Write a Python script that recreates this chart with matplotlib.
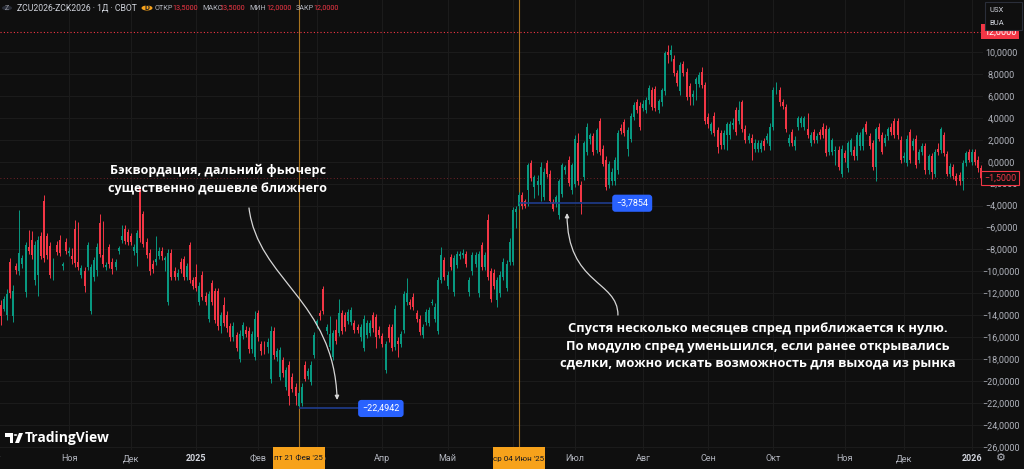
import numpy as np
import pandas as pd
import matplotlib
matplotlib.use("Agg")
import matplotlib.pyplot as plt
from matplotlib.patches import FancyArrowPatch, Circle, Rectangle, Polygon
from matplotlib.path import Path
import matplotlib.transforms as mtransforms

plt.rcParams['font.family'] = ['Roboto', 'DejaVu Sans']

BG = '#0f0f0f'
GRID = '#1b1b1b'
UP = '#089981'
DOWN = '#f23645'
AXTXT = '#b2b5be'

# daily candles ZCU2026-ZCK2026, 2 Oct 2024 .. 7 Jan 2026
opens = [
    -13.1, -13.4, -14.0, -9.1, -14.1, -9.5, -10.0, -9.3, -11.9, -7.8, -7.1, -10.8, -10.3, -6.8, -3.6, -6.8, -7.7, -10.5, -7.6, -7.1,
    -9.5, -7.3, -8.3, -8.6, -6.1, -9.1, -10.3, -10.0, -9.6, -13.6, -10.5, -9.9, -5.6, -8.5, -9.6, -7.8, -9.1, -9.6, -8.1, -7.1,
    -6.1, -6.4, -6.8, -8.1, -8.3, -2.5, -4.8, -7.3, -8.3, -9.3, -9.1, -8.6, -8.1, -9.0, -12.8, -8.3, -10.0, -10.5, -9.1, -8.9,
    -10.5, -7.6, -10.8, -10.5, -12.8, -10.3, -12.2, -14.3, -11.1, -11.8, -11.8, -15.0, -13.1, -14.0, -15.0, -16.0, -15.8, -18.0, -15.9, -15.3,
    -15.4, -17.1, -17.8, -13.8, -16.6, -16.6, -16.9, -19.8, -15.4, -17.8, -19.6, -18.1, -20.5, -18.5, -19.6, -20.5, -22.3, -22.0, -18.5, -19.5,
    -20.1, -17.6, -14.9, -13.8, -11.6, -15.4, -16.9, -17.8, -15.3, -15.6, -13.8, -14.0, -14.5, -14.6, -14.7, -15.1, -16.0, -17.0, -15.8, -15.6,
    -14.0, -14.2, -15.3, -15.9, -19.0, -15.1, -15.1, -16.9, -16.3, -16.6, -15.3, -12.8, -12.8, -12.3, -13.8, -14.3, -15.8, -14.6, -14.7, -12.9,
    -14.3, -15.4, -10.8, -9.0, -11.3, -8.7, -11.9, -9.4, -8.6, -8.5, -8.4, -11.9, -10.0, -9.3, -12.0, -7.6, -9.6, -5.3, -10.0, -10.1,
    -12.6, -12.0, -10.5, -11.5, -9.1, -9.1, -4.6, -4.0, -3.0, -3.6, -2.6, -0.1, -2.3, -2.1, -2.1, -3.2, -0.1, -1.1, -3.7, -3.8,
    -4.9, -2.9, -0.8, 0.2, -2.6, -2.0, 1.7, -2.1, -1.4, 0.9, 2.1, 2.3, 1.1, 3.7, 1.2, 0.2, -2.1, -1.8, -1.8, -0.8,
    3.1, 3.6, 1.2, 2.1, 4.1, 5.4, 5.1, 4.9, 4.7, 5.6, 6.5, 6.6, 4.7, 5.4, 6.4, 10.0, 9.7, 9.4, 8.1, 6.4,
    8.9, 8.2, 6.9, 5.9, 7.1, 7.1, 8.2, 7.0, 4.1, 2.8, 4.2, 2.9, 2.6, 1.5, 2.4, 2.4, 3.3, 4.7, 3.7, 5.4,
    3.0, 2.0, 2.2, 1.2, 1.2, 1.2, 1.9, 2.0, 1.4, 3.2, 6.5, 6.5, 5.4, 5.0, 1.7, 2.7, 1.4, 3.2, 3.5, 3.2,
    3.0, 1.7, 2.7, 2.0, 2.7, 3.2, 3.0, 0.9, 0.9, 1.0, 1.1, -1.1, 0.8, -0.6, 0.9, 1.1, 0.5, 1.4, 1.4, 3.4,
    2.3, 1.7, -0.5, 3.2, 2.4, 1.7, 2.3, 3.2, 3.7, 3.7, 2.0, 0.3, -0.1, 2.7, 1.4, 2.1, 0.2, 0.9, 1.4, -0.8,
    0.5, -1.1, 1.2, 1.1, 2.4, 0.7, -1.1, -0.5, -1.3, -1.2, -1.8, -0.1, 0.9, 0.0, 0.9, 0.2, -0.6,
]
highs = [
    -12.6, -12.2, -11.6, -8.8, -11.2, -9.2, -4.4, -8.5, -7.3, -6.2, -6.3, -7.2, -6.8, -6.4, -3.0, -6.5, -7.3, -8.8, -7.2, -6.7,
    -9.1, -7.0, -7.8, -7.9, -5.3, -5.5, -9.4, -9.6, -7.3, -9.3, -8.7, -7.4, -4.8, -5.4, -9.1, -7.5, -8.8, -8.9, -7.7, -5.8,
    -5.8, -6.1, -6.5, -7.5, -6.2, -2.3, -4.5, -7.0, -8.0, -9.0, -6.8, -7.8, -7.8, -8.6, -8.0, -8.0, -9.6, -9.8, -8.8, -8.6,
    -9.2, -7.3, -10.5, -9.3, -11.0, -10.0, -11.9, -11.8, -10.8, -11.5, -11.5, -13.7, -12.3, -13.6, -14.7, -14.6, -15.5, -15.3, -14.6, -15.0,
    -15.1, -15.4, -13.6, -13.5, -16.3, -16.3, -16.1, -15.0, -15.1, -17.0, -16.9, -17.8, -18.7, -18.2, -19.3, -20.2, -20.9, -20.2, -18.2, -18.8,
    -18.2, -15.5, -14.3, -13.5, -11.3, -14.8, -14.1, -15.3, -14.3, -12.5, -13.5, -13.7, -13.4, -13.2, -14.4, -14.8, -14.8, -14.0, -14.4, -14.4,
    -13.7, -13.9, -15.0, -15.6, -16.3, -14.8, -14.8, -13.1, -16.0, -15.4, -11.8, -10.6, -12.5, -12.0, -13.5, -14.0, -14.8, -13.4, -13.2, -12.5,
    -12.9, -10.5, -7.8, -8.7, -10.0, -8.4, -8.5, -8.1, -8.1, -8.0, -8.1, -10.5, -8.2, -8.2, -8.1, -7.3, -8.2, -4.8, -9.7, -9.8,
    -10.5, -10.0, -8.8, -9.0, -7.0, -4.1, -4.0, -2.8, -2.8, -3.4, -0.1, 0.2, -1.2, -1.2, 0.0, -0.6, 0.2, -0.8, -3.4, -3.0,
    -1.6, -0.1, -0.3, 0.5, -0.1, 2.4, 2.6, -1.8, 1.9, 3.5, 2.6, 2.6, 3.1, 4.0, 1.5, 0.5, 0.1, -0.6, 0.4, 2.9,
    3.4, 3.9, 3.2, 4.4, 5.4, 5.7, 5.4, 5.6, 5.9, 7.0, 6.8, 6.9, 5.7, 6.7, 10.1, 10.6, 10.6, 9.7, 8.4, 9.1,
    9.2, 8.5, 7.2, 6.5, 7.7, 8.2, 8.6, 7.3, 4.4, 3.6, 4.5, 3.2, 2.9, 2.9, 3.6, 3.7, 4.0, 5.0, 5.5, 5.6,
    3.3, 2.6, 2.5, 2.1, 2.0, 2.0, 2.2, 2.6, 3.5, 6.8, 7.3, 6.8, 5.7, 5.3, 2.5, 3.0, 2.3, 4.2, 4.2, 4.2,
    4.4, 2.7, 3.0, 2.6, 3.0, 3.5, 3.3, 3.2, 2.2, 1.4, 1.4, 1.5, 1.1, 1.9, 2.2, 1.4, 2.7, 2.7, 3.2, 3.7,
    2.6, 2.0, 3.2, 3.5, 2.7, 2.5, 3.2, 3.5, 4.0, 4.0, 2.3, 0.9, 2.4, 3.0, 2.2, 2.4, 1.2, 1.7, 1.7, 0.7,
    0.8, 1.2, 1.7, 3.2, 2.7, 1.0, -0.1, -0.2, -1.0, -0.9, 0.2, 1.0, 1.2, 1.2, 1.2, 0.5, -0.3,
]
lows = [
    -14.9, -13.6, -14.4, -12.4, -14.6, -10.2, -10.3, -9.7, -12.3, -8.4, -8.9, -11.2, -12.2, -8.9, -9.1, -8.9, -10.6, -10.8, -8.5, -8.6,
    -9.9, -8.4, -8.6, -9.3, -9.6, -9.9, -10.6, -11.9, -9.9, -13.9, -10.9, -10.4, -8.7, -9.6, -9.9, -9.7, -10.2, -9.9, -8.4, -7.4,
    -7.5, -7.6, -7.6, -8.5, -9.5, -7.3, -7.8, -8.8, -10.3, -10.1, -9.4, -8.9, -9.0, -10.0, -13.1, -10.8, -10.8, -10.8, -10.1, -10.8,
    -10.8, -11.1, -11.6, -11.8, -13.1, -12.6, -13.1, -14.6, -13.1, -14.7, -15.3, -15.6, -15.0, -15.5, -16.3, -16.3, -17.3, -18.3, -16.2, -16.0,
    -17.4, -17.4, -18.1, -16.3, -17.6, -17.5, -17.4, -20.2, -18.0, -18.2, -19.9, -19.6, -20.8, -22.2, -21.0, -22.2, -22.4942, -22.3, -20.0, -19.8,
    -20.4, -17.9, -15.2, -14.4, -13.9, -15.7, -17.2, -18.1, -16.6, -15.9, -15.7, -15.4, -14.8, -14.9, -15.6, -15.6, -16.3, -17.3, -16.1, -15.9,
    -15.5, -17.0, -16.1, -16.9, -19.3, -16.4, -17.3, -17.2, -17.8, -16.9, -15.6, -13.1, -13.4, -13.5, -14.6, -15.8, -16.1, -14.9, -15.0, -13.1,
    -14.6, -15.7, -11.1, -10.8, -11.6, -9.9, -12.2, -9.7, -8.9, -8.8, -9.6, -12.2, -10.3, -9.6, -12.3, -9.9, -9.9, -10.8, -12.8, -11.6,
    -13.2, -12.3, -10.8, -11.8, -9.4, -9.4, -6.0, -4.3, -4.3, -4.2, -4.0, -1.8, -3.3, -3.0, -3.6, -3.5, -1.4, -3.8, -4.5, -4.1,
    -5.2, -3.2, -1.1, -2.2, -2.9, -2.3, -2.1, -4.8, -1.7, 0.6, 1.6, 0.6, 0.8, 0.6, -0.4, -2.6, -2.4, -2.1, -2.1, -1.1,
    2.5, 2.3, 0.5, 1.8, 3.8, 4.4, 2.9, 4.6, 4.4, 5.3, 4.7, 4.6, 4.4, 5.1, 6.1, 9.0, 9.2, 7.8, 6.9, 6.1,
    7.8, 5.6, 5.2, 5.2, 5.6, 6.8, 6.7, 3.4, 3.1, 2.5, 2.3, 0.8, 1.2, 1.2, 1.1, 2.1, 3.0, 2.4, 3.4, 2.7,
    1.7, 1.7, 0.2, 0.9, 0.9, 0.9, 1.1, 1.7, 1.1, 2.9, 6.2, 5.1, 4.8, 2.7, 1.4, 1.4, 1.1, 2.9, 3.2, 2.9,
    2.2, 1.4, 1.7, 1.7, 2.1, 2.2, 0.5, 0.6, 0.6, -0.3, -0.8, -1.4, 0.0, -0.9, 0.6, 0.2, 0.2, 1.1, 1.1, 2.5,
    1.2, -0.8, -1.8, 1.9, 0.7, 1.4, 2.0, 2.4, 2.2, 2.1, -0.1, 0.0, -0.4, -0.1, 1.1, -0.6, -0.1, 0.6, -1.1, -1.1,
    -1.6, -1.4, 0.6, 0.8, 0.5, -1.3, -1.4, -1.6, -2.1, -2.1, -2.6, -0.4, 0.0, -0.3, -0.3, -0.9, -1.8,
]
closes = [
    -14.1, -12.5, -12.1, -12.0, -11.8, -9.9, -8.3, -8.8, -7.6, -8.1, -8.5, -7.6, -7.1, -8.6, -8.8, -8.5, -10.3, -9.1, -8.2, -8.3,
    -9.3, -8.1, -8.1, -8.9, -9.2, -9.6, -9.7, -11.3, -7.6, -9.6, -9.0, -7.8, -8.4, -9.3, -9.4, -9.3, -9.8, -9.1, -7.9, -6.8,
    -7.2, -7.3, -7.3, -7.8, -6.5, -7.0, -7.5, -8.5, -10.0, -9.8, -8.9, -8.1, -8.6, -8.8, -8.3, -10.5, -10.5, -10.1, -9.8, -10.5,
    -9.5, -10.8, -11.3, -11.5, -11.3, -12.3, -12.8, -12.1, -12.8, -14.4, -15.0, -14.0, -14.7, -15.2, -16.0, -15.0, -17.0, -15.7, -14.9, -15.7,
    -17.1, -15.7, -14.3, -16.0, -17.3, -17.2, -16.4, -15.4, -17.6, -17.3, -17.2, -19.3, -19.0, -21.4, -20.7, -21.4, -21.1, -20.5, -19.8, -19.1,
    -18.5, -15.8, -14.5, -14.1, -13.6, -15.1, -15.7, -15.6, -16.3, -13.8, -15.4, -15.1, -13.7, -13.5, -15.3, -15.3, -15.1, -14.3, -14.7, -14.7,
    -15.2, -16.0, -15.8, -16.6, -16.6, -16.1, -17.0, -13.4, -16.6, -15.7, -12.1, -12.0, -13.1, -13.2, -14.3, -15.5, -15.1, -13.7, -13.5, -12.8,
    -13.2, -10.8, -8.5, -10.5, -10.3, -9.6, -8.8, -8.4, -8.4, -8.3, -9.3, -10.8, -8.5, -8.5, -8.4, -9.6, -8.5, -10.5, -12.5, -11.3,
    -10.8, -10.3, -9.1, -9.3, -7.3, -4.4, -4.3, -3.0, -4.0, -4.0, -0.3, -1.5, -1.4, -1.8, -0.5, -0.9, -1.1, -3.6, -4.3, -3.2,
    -1.8, -0.3, -0.5, -1.9, -0.3, 2.1, -1.8, -3.7, 1.7, 3.2, 2.4, 0.9, 2.9, 0.9, -0.2, -2.3, -0.2, -0.9, 0.2, 2.6,
    2.8, 2.6, 2.9, 4.2, 5.2, 4.7, 3.2, 5.3, 5.6, 6.7, 5.0, 4.9, 5.5, 6.5, 9.9, 9.7, 10.2, 8.1, 7.2, 8.8,
    8.1, 5.9, 5.9, 6.2, 7.5, 7.9, 7.0, 3.7, 3.4, 3.4, 2.6, 1.3, 1.5, 2.6, 3.4, 3.4, 3.5, 2.7, 4.7, 3.0,
    2.0, 2.3, 1.7, 1.7, 1.7, 1.7, 1.4, 2.3, 3.2, 6.5, 6.8, 5.4, 5.1, 3.0, 2.2, 1.7, 2.0, 4.0, 4.0, 4.0,
    2.4, 2.4, 2.0, 2.3, 2.4, 2.4, 0.8, 3.0, 2.0, 1.1, -0.5, 1.2, 0.3, 1.7, 2.0, 0.5, 2.4, 2.4, 3.0, 2.7,
    1.4, -0.5, 3.0, 2.1, 0.9, 2.2, 3.0, 2.7, 2.4, 2.4, 0.2, 0.5, 2.1, 0.2, 1.9, -0.3, 0.9, 1.4, -0.8, 0.5,
    -0.9, 0.9, 0.9, 3.0, 0.8, -1.1, -0.4, -1.3, -1.8, -1.8, -0.1, 0.8, 0.2, 0.9, 0.0, -0.6, -1.5,
]

# CBOT holidays in the period
holidays = ['2024-11-28', '2024-12-25', '2025-01-01', '2025-01-09', '2025-01-20', '2025-02-17',
            '2025-04-18', '2025-05-26', '2025-06-19', '2025-07-04', '2025-09-01', '2025-11-27',
            '2025-12-25', '2026-01-01']
month_labels = ['Окт', 'Ноя', 'Дек', '2025', 'Фев', 'Мар', 'Апр', 'Май', 'Июн', 'Июл',
                'Авг', 'Сен', 'Окт', 'Ноя', 'Дек', '2026']
price_ticks = np.arange(-26, 11, 2)
last_price = -1.5
low_mark = ('2025-02-21', -22.4942)
rebound_mark = ('2025-06-04', -3.7854)
top_line = 11.85

text_left = "Бэквордация, дальний фьючерс\nсущественно дешевле ближнего"
text_right = ("Спустя несколько месяцев спред приближается к нулю.\n"
              "По модулю спред уменьшился, если ранее открывались\n"
              "сделки, можно искать возможность для выхода из рынка")
header_items = [('ОТКР', '13,5000'), ('МАКС', '13,5000'), ('МИН', '12,0000'), ('ЗАКР', '12,0000')]

cal = pd.date_range('2024-10-01', periods=len(closes) + 1,
                    freq=pd.offsets.CustomBusinessDay(holidays=holidays))
x = np.arange(1, len(closes) + 1)


def pos_of(day):
    return cal.get_loc(pd.Timestamp(day))


def fmt(v):
    return f"{v:.4f}".replace('.', ',').replace('-', '\u2212')


def fpx(px, py):
    # pixel position (from top-left) -> figure fraction
    return px / 1024, 1 - py / 469


fig = plt.figure(figsize=(10.24, 4.69), dpi=100, facecolor=BG)
ax = fig.add_axes([0, 19 / 469, 983 / 1024, 450 / 469])
ax.set_facecolor(BG)
for s in ax.spines.values():
    s.set_visible(False)

# month ticks; October 2024 starts before the left edge, so only its tail shows
months = cal.to_period('M')
tick_pos = [int(np.argmax(months == p)) for p in months.unique()]
ax.set_xticks(tick_pos[1:])
ax.set_xticklabels(month_labels[1:])
ax.tick_params(axis='x', length=0, pad=3, labelsize=6.5, labelcolor=AXTXT)
for lbl in ax.get_xticklabels():
    if lbl.get_text().isdigit():
        lbl.set_fontweight('bold')
        lbl.set_color('#d1d4dc')

ax.set_yticks(price_ticks)
ax.set_yticklabels([fmt(v) for v in price_ticks])
ax.yaxis.tick_right()
ax.tick_params(axis='y', length=0, pad=13, labelsize=6.5, labelcolor=AXTXT)
plt.setp(ax.get_yticklabels(), ha='center')
ax.grid(True, color=GRID, lw=0.8)
ax.set_axisbelow(True)
ax.set_xlim(0.76, 317.55)
ax.set_ylim(-26.28, 14.74)

blend = mtransforms.blended_transform_factory(ax.transData, ax.transAxes)
ax.text(-1.4, -8.5 / 450, month_labels[0], transform=blend, ha='center', va='center',
        fontsize=6.5, color=AXTXT, clip_on=False)

# candles
o = np.array(opens)
c = np.array(closes)
h = np.array(highs)
l = np.array(lows)
cols = np.where(c >= o, UP, DOWN)
ax.vlines(x, l, h, colors=cols, lw=0.7, zorder=3)
ax.bar(x, np.maximum(np.abs(c - o), 0.1), 0.64, bottom=np.minimum(o, c),
       color=cols, lw=0, zorder=4)

# marker lines
for day, val in (low_mark, rebound_mark):
    ax.axvline(pos_of(day), color='#a8741f', lw=0.8, zorder=2)
ax.axhline(top_line, color=DOWN, lw=0.8, ls=(0, (1, 2)), zorder=2)
ax.axhline(last_price, color=DOWN, lw=0.6, ls=(0, (1, 3)), alpha=0.6, zorder=2)

box_kw = dict(boxstyle='round,pad=0.45,rounding_size=0.35', fc='#2962ff', ec='none')
p0 = pos_of(low_mark[0])
ax.hlines(low_mark[1], p0, p0 + 20, color='#1f3c8c', lw=1.2, zorder=5)
ax.text(p0 + 26.5, low_mark[1], fmt(low_mark[1]), ha='center', va='center',
        fontsize=6.5, color='white', bbox=box_kw, zorder=6)
p1 = pos_of(rebound_mark[0])
ax.hlines(rebound_mark[1], p1, p1 + 31, color='#1f3c8c', lw=1.2, zorder=5)
ax.text(p1 + 36.5, rebound_mark[1], fmt(rebound_mark[1]), ha='center', va='center',
        fontsize=6.5, color='white', bbox=box_kw, zorder=6)

# annotations
tfam = ['Open Sans', 'DejaVu Sans']
ax.text(71.0, -1.62, text_left, ha='center', va='center', color='white', fontsize=9.1,
        fontweight='bold', linespacing=1.5, family=tfam, zorder=7)
ax.text(245.0, -16.8, text_right, ha='center', va='center', color='white', fontsize=9.3,
        fontweight='bold', linespacing=1.45, family=tfam, zorder=7)

arrow_kw = dict(arrowstyle='-|>', mutation_scale=6, color='#d6d6d6', lw=0.9, zorder=7)
path1 = Path([(81.0, -4.22), (83.9, -10.78), (108.4, -12.61), (109.4, -21.72)],
             [Path.MOVETO, Path.CURVE4, Path.CURVE4, Path.CURVE4])
ax.add_patch(FancyArrowPatch(path=path1, **arrow_kw))
path2 = Path([(199.9, -13.98), (199.9, -10.78), (183.5, -11.25), (183.5, -4.68)],
             [Path.MOVETO, Path.CURVE4, Path.CURVE4, Path.CURVE4])
ax.add_patch(FancyArrowPatch(path=path2, **arrow_kw))

# date boxes on the time scale
for day, lab in ((low_mark[0], "пт 21 Фев '25"), (rebound_mark[0], "ср 04 Июн '25")):
    p = pos_of(day)
    ax.add_patch(Rectangle((p - 8.4, -19 / 450), 16.8, 22 / 450, transform=blend,
                           fc='#f7a21b', ec='none', clip_on=False, zorder=19))
    ax.text(p, -8.5 / 450, lab, transform=blend, ha='center', va='center',
            fontsize=5.8, color='#131722', clip_on=False, zorder=20)

# price scale labels
yb = mtransforms.blended_transform_factory(fig.transFigure, ax.transData)
ax.text(1000 / 1024, top_line, fmt(12.0), transform=yb, ha='center', va='center',
        fontsize=6.5, color='white', clip_on=False, zorder=20,
        bbox=dict(boxstyle='square,pad=0.3', fc=DOWN, ec='none'))
ax.text(1000 / 1024, last_price, fmt(last_price), transform=yb, ha='center', va='center',
        fontsize=6.5, color=DOWN, clip_on=False, zorder=20,
        bbox=dict(boxstyle='square,pad=0.3', fc=BG, ec=DOWN, lw=0.8))

# legend box top right
fig.patches.append(Rectangle(fpx(985, 30), 37 / 1024, 28 / 469,
                             transform=fig.transFigure, fc=BG, ec='#2a2e39', lw=0.8, zorder=30))
fig.text(*fpx(989, 10), 'USX', fontsize=5.5, color='#d1d4dc', va='center', zorder=31)
fig.text(*fpx(989, 23), 'BUA', fontsize=5.5, color='#d1d4dc', va='center', zorder=31)

# header
hy = 1 - 8 / 469
fig.patches.append(Circle(fpx(7, 8), 5 / 1024, transform=fig.transFigure, fc='#2a2e39', ec='none'))
fig.text(*fpx(7, 8), 'Z', fontsize=5, color='#9598a1', ha='center', va='center')
fig.text(17 / 1024, hy, 'ZCU2026-ZCK2026 · 1Д · CBOT', fontsize=6.2, color='#d1d4dc', va='center')
fig.patches.append(Circle(fpx(147, 8), 5.5 / 1024, transform=fig.transFigure, fc='#f7a21b', ec='none'))
fig.text(*fpx(147, 8), 'D', fontsize=5.5, color='#131722', ha='center', va='center', fontweight='bold')
hx = 155
for name, val in header_items:
    fig.text(hx / 1024, hy, name, fontsize=5.2, color=AXTXT, va='center')
    fig.text((hx + 17) / 1024, hy, val, fontsize=5.2, color=DOWN, va='center')
    hx += 47

# TradingView logo (bar, dot, slash) and wordmark
logo = dict(transform=fig.transFigure, fc='white', ec='none')
fig.patches.append(Polygon([fpx(5, 433), fpx(13, 433), fpx(13, 443), fpx(10, 443),
                            fpx(10, 436.5), fpx(5, 436.5)], **logo))
fig.patches.append(Circle(fpx(15.5, 435), 1.8 / 1024, **logo))
fig.patches.append(Polygon([fpx(19, 433), fpx(23, 433), fpx(19, 443), fpx(15, 443)], **logo))
fig.text(25 / 1024, 1 - 438 / 469, 'TradingView', fontsize=10, fontweight='bold',
         color='white', va='center', family=['Open Sans', 'DejaVu Sans'])
fig.text(*fpx(1001, 458), '\u2699', fontsize=8, color=AXTXT, ha='center', va='center',
         family=['DejaVu Sans'])

fig.savefig('out.png', dpi=100, facecolor=BG)
